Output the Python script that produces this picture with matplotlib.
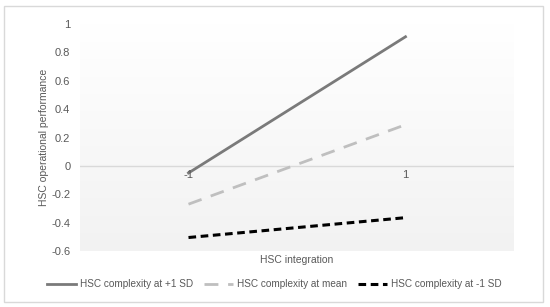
import numpy as np
import matplotlib.pyplot as plt
from matplotlib.patches import Rectangle
from matplotlib.colors import LinearSegmentedColormap

# simple slopes
x_labels = ["-1", "1"]
sd_plus = [-0.05, 0.91]
sd_mean = [-0.27, 0.29]
sd_minus = [-0.505, -0.365]
series_names = ["HSC complexity at +1 SD", "HSC complexity at mean", "HSC complexity at -1 SD"]
y_ticks = [-0.6, -0.4, -0.2, 0, 0.2, 0.4, 0.6, 0.8, 1]

plt.rcParams["font.family"] = ["Liberation Sans", "DejaVu Sans"]

fig = plt.figure(figsize=(5.5, 3.07), dpi=100)
ax = fig.add_axes([80 / 550, 1 - 251 / 307, 434 / 550, 227 / 307])

# outer chart border
fig.patches.append(Rectangle((4 / 550, 5 / 307), 539 / 550, 296 / 307,
                             transform=fig.transFigure, fill=False,
                             edgecolor="#d9d9d9", linewidth=1))

# gradient plot-area fill, white at top to light gray at bottom
grad = np.linspace(0.0, 1.0, 256).reshape(-1, 1)
bg = LinearSegmentedColormap.from_list("bg", ["#f2f2f2", "#ffffff"])
ax.imshow(grad, extent=(-0.5, 1.5, -0.6, 1.0), aspect="auto",
          cmap=bg, origin="lower", zorder=0)

xs = np.arange(len(x_labels))
ax.axhline(0, color="#d9d9d9", linewidth=1, zorder=1)
ax.plot(xs, sd_plus, color="#7a7a7a", linewidth=2, label=series_names[0], zorder=3)
ax.plot(xs, sd_mean, color="#bfbfbf", linewidth=2, dashes=(5, 3.5), label=series_names[1], zorder=3)
ax.plot(xs, sd_minus, color="black", linewidth=2.2, dashes=(2.5, 1.5), label=series_names[2], zorder=3)

ax.set_xlim(-0.5, 1.5)
ax.set_ylim(-0.6, 1.0)
ax.set_yticks(y_ticks)
ax.set_yticklabels([f"{t:g}" for t in y_ticks], color="#595959", fontsize=8)
ax.set_xticks([])
for x, lab in zip(xs, x_labels):
    ax.text(x, -0.03, lab, ha="center", va="top", fontsize=8, color="#595959")

for s in ax.spines.values():
    s.set_visible(False)
ax.tick_params(axis="y", length=0, pad=7)

ax.set_ylabel("HSC operational performance", fontsize=7.5, color="#595959")
ax.yaxis.set_label_coords(-0.072, 0.5)
fig.text(297 / 550, 1 - 260 / 307, "HSC integration", ha="center", va="center",
         fontsize=7.5, color="#595959")

fig.legend(loc="center", bbox_to_anchor=(274 / 550, 1 - 284 / 307), ncol=3,
           frameon=False, fontsize=7.2, handlelength=2.9, handletextpad=0.4,
           columnspacing=1.1, labelcolor="#595959")

plt.savefig("out.png", dpi=100)
